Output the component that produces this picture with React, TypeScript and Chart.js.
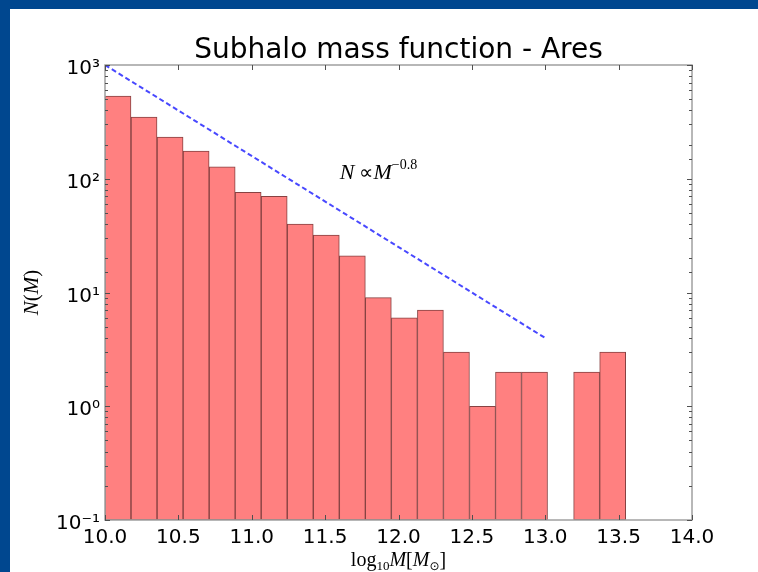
import { useEffect, useRef } from 'react';
import { Chart, registerables } from 'chart.js';

Chart.register(...registerables);

// Histogram bin edges in log10(M / Msun)
const binEdges = [
  10.0, 10.177, 10.355, 10.532, 10.71, 10.887, 11.064, 11.242, 11.419, 11.597,
  11.774, 11.951, 12.129, 12.306, 12.484, 12.661, 12.838, 13.016, 13.193, 13.371, 13.548,
];
// Number of subhaloes per bin
const counts = [534, 349, 233, 175, 127, 76, 70, 40, 32, 21, 9, 6, 7, 3, 1, 2, 2, 0, 2, 3];

// Reference power law N ∝ M^-0.8
const powerLawX = [10.0, 13.0];
const powerLawY = [1000, 3.98];
const powerLawSlope = '\u22120.8';

const xTickValues = [10.0, 10.5, 11.0, 11.5, 12.0, 12.5, 13.0, 13.5, 14.0];
const yTickValues = [0.1, 1, 10, 100, 1000];
const yTickLabels = ['10\u207B\u00B9', '10\u2070', '10\u00B9', '10\u00B2', '10\u00B3'];

const TITLE = 'Subhalo mass function - Ares';

const FRAME_BLUE = 'rgb(0, 71, 143)';
const SPINE = '#a0a0a0';
const TICK = '#505050';

type Run = { text: string; font: string; dy?: number };

function drawRuns(ctx: CanvasRenderingContext2D, runs: Run[], x: number, y: number, align: 'left' | 'center') {
  let total = 0;
  const widths: number[] = [];
  for (const r of runs) {
    ctx.font = r.font;
    const w = ctx.measureText(r.text).width;
    widths.push(w);
    total += w;
  }
  let cx = align === 'center' ? x - total / 2 : x;
  runs.forEach((r, i) => {
    ctx.font = r.font;
    ctx.fillText(r.text, cx, y + (r.dy || 0));
    cx += widths[i];
  });
}

const framePlugin = {
  id: 'frame',
  beforeDraw(chart: any) {
    const { ctx, width, height } = chart;
    ctx.save();
    ctx.fillStyle = FRAME_BLUE;
    ctx.fillRect(0, 0, width, height);
    ctx.fillStyle = '#ffffff';
    ctx.fillRect(10, 9, width - 10, height - 9);
    ctx.restore();
  },
};

const axesDecorPlugin = {
  id: 'axesDecor',
  afterDraw(chart: any) {
    const { ctx, chartArea: a, scales } = chart;
    const xs = scales.x;
    const ys = scales.y;
    ctx.save();

    // spines
    ctx.strokeStyle = SPINE;
    ctx.lineWidth = 1.5;
    ctx.strokeRect(a.left, a.top, a.right - a.left, a.bottom - a.top);

    // inward tick marks
    ctx.strokeStyle = TICK;
    ctx.lineWidth = 1;
    ctx.beginPath();
    xs.ticks.forEach((t: any) => {
      const px = Math.round(xs.getPixelForValue(t.value)) + 0.5;
      ctx.moveTo(px, a.bottom);
      ctx.lineTo(px, a.bottom - 5);
      ctx.moveTo(px, a.top);
      ctx.lineTo(px, a.top + 5);
    });
    ys.ticks.forEach((t: any) => {
      const e = Math.log10(t.value);
      const major = Math.abs(e - Math.round(e)) < 1e-6;
      const len = major ? 5 : 3;
      const py = Math.round(ys.getPixelForValue(t.value)) + 0.5;
      ctx.moveTo(a.left, py);
      ctx.lineTo(a.left + len, py);
      ctx.moveTo(a.right, py);
      ctx.lineTo(a.right - len, py);
    });
    ctx.stroke();

    ctx.fillStyle = '#000';
    ctx.textBaseline = 'alphabetic';
    ctx.textAlign = 'left';

    // title
    drawRuns(ctx, [{ text: TITLE, font: '28px "DejaVu Sans"' }], (a.left + a.right) / 2, 58, 'center');

    // x axis title
    drawRuns(
      ctx,
      [
        { text: 'log', font: '20px "Liberation Serif"' },
        { text: '10', font: '13px "Liberation Serif"', dy: 4 },
        { text: 'M', font: 'italic 20px "Liberation Serif"' },
        { text: '[', font: '20px "Liberation Serif"' },
        { text: 'M', font: 'italic 20px "Liberation Serif"' },
        { text: '\u2299', font: '12px "DejaVu Sans"', dy: 4 },
        { text: ']', font: '20px "Liberation Serif"' },
      ],
      (a.left + a.right) / 2,
      566,
      'center'
    );

    // y axis title
    ctx.save();
    ctx.translate(38, (a.top + a.bottom) / 2);
    ctx.rotate(-Math.PI / 2);
    drawRuns(
      ctx,
      [
        { text: 'N', font: 'italic 21px "Liberation Serif"' },
        { text: '(', font: '21px "Liberation Serif"' },
        { text: 'M', font: 'italic 21px "Liberation Serif"' },
        { text: ')', font: '21px "Liberation Serif"' },
      ],
      0,
      0,
      'center'
    );
    ctx.restore();

    // power-law annotation
    drawRuns(
      ctx,
      [
        { text: 'N', font: 'italic 22px "Liberation Serif"' },
        { text: ' \u221D', font: '20px "Liberation Serif"' },
        { text: 'M', font: 'italic 22px "Liberation Serif"' },
        { text: powerLawSlope, font: '14px "Liberation Serif"', dy: -10 },
      ],
      xs.getPixelForValue(11.6),
      ys.getPixelForValue(100),
      'left'
    );

    ctx.restore();
  },
};

export default function App() {
  const canvasRef = useRef<HTMLCanvasElement | null>(null);

  useEffect(() => {
    const canvas = canvasRef.current;
    if (!canvas) return;

    const barData = counts.map((c, i) => ({
      x: (binEdges[i] + binEdges[i + 1]) / 2,
      y: c > 0 ? c : null,
    }));
    const lineData = powerLawX.map((x, i) => ({ x, y: powerLawY[i] }));

    const chart = new Chart(canvas, {
      type: 'bar',
      data: {
        datasets: [
          {
            type: 'line',
            data: lineData as any,
            borderColor: 'rgba(40, 40, 255, 0.85)',
            borderWidth: 2,
            borderDash: [5, 3],
            pointRadius: 0,
            fill: false,
            order: 0,
          } as any,
          {
            type: 'bar',
            data: barData as any,
            backgroundColor: 'rgb(255, 128, 128)',
            borderColor: 'rgb(135, 66, 66)',
            borderWidth: 1,
            borderSkipped: false,
            barPercentage: 1,
            categoryPercentage: 1,
            order: 1,
          } as any,
        ],
      },
      options: {
        animation: false,
        responsive: false,
        maintainAspectRatio: false,
        layout: { padding: { top: 65, right: 66, left: 0, bottom: 0 } },
        plugins: {
          legend: { display: false },
          title: { display: false },
          tooltip: { enabled: false },
        },
        scales: {
          x: {
            type: 'linear',
            min: 10,
            max: 14,
            offset: false,
            afterBuildTicks: (scale: any) => {
              scale.ticks = xTickValues.map((v) => ({ value: v }));
            },
            afterFit: (scale: any) => {
              scale.height = 52;
            },
            ticks: {
              autoSkip: false,
              maxRotation: 0,
              padding: 6,
              color: '#000',
              font: { family: 'DejaVu Sans', size: 20 },
              callback: (v: any) => Number(v).toFixed(1),
            },
            grid: { display: true, offset: false, drawOnChartArea: false, drawTicks: false },
            border: { display: false },
          },
          y: {
            type: 'logarithmic',
            min: 0.1,
            max: 1000,
            afterFit: (scale: any) => {
              scale.width = 105;
            },
            ticks: {
              autoSkip: false,
              padding: 5,
              labelOffset: 4,
              color: '#000',
              font: { family: 'DejaVu Sans', size: 20 },
              callback: (v: any) => {
                const idx = yTickValues.findIndex((t) => Math.abs(Math.log10(t) - Math.log10(Number(v))) < 1e-6);
                return idx >= 0 ? yTickLabels[idx] : '';
              },
            },
            grid: { display: true, drawOnChartArea: false, drawTicks: false },
            border: { display: false },
          },
        },
      } as any,
      plugins: [framePlugin, axesDecorPlugin],
    });

    return () => chart.destroy();
  }, []);

  return (
    <div style={{ position: 'fixed', left: 0, top: 0, width: 758, height: 572 }}>
      <canvas ref={canvasRef} width={758} height={572} style={{ display: 'block', width: 758, height: 572 }} />
    </div>
  );
}
